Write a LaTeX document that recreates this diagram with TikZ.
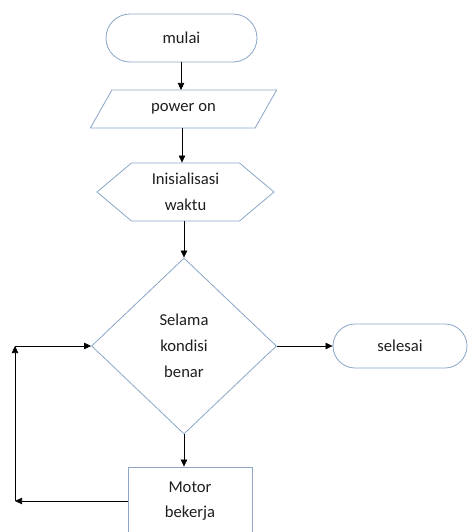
\documentclass[tikz,border=0pt]{standalone}
\usepackage{fontspec}
\setmainfont{Carlito}
\usepackage{tikz}
\usetikzlibrary{shapes, shapes.geometric, shapes.misc, shapes.symbols, arrows.meta, calc, positioning}
\definecolor{boxline}{RGB}{140,166,200}
\definecolor{txt}{RGB}{30,30,30}

\begin{document}
\begin{tikzpicture}[x=0.03cm,y=-0.03cm,>={Triangle[length=6pt,width=5.5pt]},
	every node/.style={font=\fontsize{14.2}{22}\selectfont,text=txt,align=center,inner sep=0pt},
	shp/.style={draw=boxline,line width=0.7pt},
	flow/.style={->,draw=black,line width=0.6pt}]
	\useasboundingbox (0,0) rectangle (468,532);
	\clip (0,0) rectangle (468,532);
	\node[shp, rounded rectangle, minimum width=4.53cm, minimum height=1.44cm] (mulai) at (181.5,38) {mulai};
	\node[shp, trapezium, trapezium left angle=48, trapezium right angle=132, trapezium stretches=true, minimum width=5.61cm, minimum height=1.14cm] (power) at (183.5,109) {power on};
	\node[shp, signal, signal to=west and east, signal pointer angle=80, minimum width=5.31cm, minimum height=1.74cm] (init) at (185.5,192) {Inisialisasi\\waktu};
	\node[shp, diamond, minimum width=5.55cm, minimum height=5.28cm] (kondisi) at (184,346) {Selama\\kondisi\\benar};
	\node[shp, rounded rectangle, minimum width=4.02cm, minimum height=1.32cm] (selesai) at (400,346) {selesai};
	\node[shp, rectangle, minimum width=3.72cm, minimum height=2.04cm] (motor) at (190,501) {Motor\\bekerja};
	\coordinate (balik) at (15,346);
	% alur utama
	\draw[flow] (mulai.south -| 181,0) -- (181,90);
	\draw[flow] (power.south -| 182,0) -- (init.north -| 182,0);
	\draw[flow] (init.south -| kondisi.north) -- (kondisi.north);
	\draw[flow] (kondisi.east) -- (selesai.west);
	\draw[flow] (kondisi.south) -- (kondisi.south |- motor.north);
	% kembali ke kondisi
	\draw[flow] (motor.west) -- (motor.west -| balik);
	\draw[flow] (motor.west -| balik) -- (balik);
	\draw[flow] (balik) -- (kondisi.west);
\end{tikzpicture}
\end{document}
